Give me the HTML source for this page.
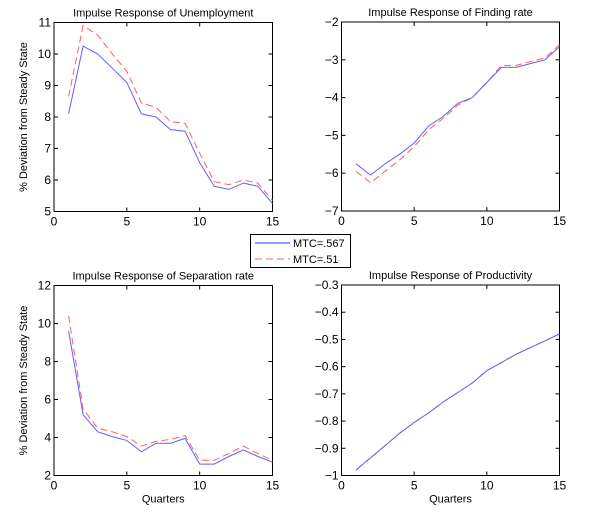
<!DOCTYPE html>
<html><head><meta charset="utf-8"><style>
body{margin:0;background:#fff;}
svg{display:block;font-family:"Liberation Sans",Arial,sans-serif;}
</style></head><body>
<svg id="fig" width="600" height="514" viewBox="0 0 600 514"></svg>
<script>
const quarters=[1,2,3,4,5,6,7,8,9,10,11,12,13,14,15];
const unempBlue=[8.1,10.25,10.0,9.55,9.1,8.1,8.0,7.6,7.55,6.55,5.8,5.7,5.9,5.8,5.25];
const unempRed=[8.65,10.9,10.6,10.0,9.45,8.45,8.3,7.85,7.8,6.85,5.95,5.85,6.0,5.9,5.35];
const findBlue=[-5.75,-6.05,-5.75,-5.5,-5.2,-4.75,-4.5,-4.15,-4.0,-3.6,-3.2,-3.2,-3.1,-3.0,-2.65];
const findRed=[-5.95,-6.25,-5.95,-5.65,-5.3,-4.85,-4.55,-4.2,-4.0,-3.6,-3.15,-3.15,-3.05,-2.95,-2.6];
const sepBlue=[9.6,5.2,4.3,4.05,3.85,3.25,3.7,3.7,3.95,2.6,2.6,3.0,3.35,3.0,2.7];
const sepRed=[10.4,5.5,4.5,4.3,4.05,3.55,3.8,3.9,4.1,2.8,2.8,3.15,3.55,3.15,2.8];
const prodBlue=[-0.98,-0.935,-0.89,-0.845,-0.805,-0.77,-0.73,-0.695,-0.66,-0.615,-0.585,-0.555,-0.53,-0.505,-0.48];
const prodRed=[-0.98,-0.935,-0.89,-0.845,-0.805,-0.77,-0.73,-0.695,-0.66,-0.615,-0.585,-0.555,-0.53,-0.505,-0.48];
const xTicks=[0,5,10,15];
const unempTicks=[5,6,7,8,9,10,11];
const findTicks=[-7,-6,-5,-4,-3,-2];
const sepTicks=[2,4,6,8,10,12];
const prodTicks=[-1,-0.9,-0.8,-0.7,-0.6,-0.5,-0.4,-0.3];
const legendLabels=["MTC=.567","MTC=.51"];

const NS="http://www.w3.org/2000/svg";
const svg=document.getElementById('fig');
function mk(tag,attrs,parent,txt){const e=document.createElementNS(NS,tag);for(const k in attrs)e.setAttribute(k,attrs[k]);if(txt!==undefined)e.textContent=txt;(parent||svg).appendChild(e);return e;}

function panel(name,x0,x1,y0,y1,ymin,ymax,yt,blue,red,title,ylab,xlab){
  const g=mk('g',{});
  
  
  const sx=v=>x0+(v-0)/15*(x1-x0);
  const sy=v=>y1-(v-ymin)/(ymax-ymin)*(y1-y0);
  const box=mk('rect',{x:x0,y:y0,width:x1-x0,height:y1-y0,fill:'#fff',stroke:'#000','stroke-width':1},g);
  
  
  xTicks.forEach(t=>{
    const x=sx(t);
    mk('line',{x1:x,x2:x,y1:y1,y2:y1-4,stroke:'#000'},g);
    mk('line',{x1:x,x2:x,y1:y0,y2:y0+4,stroke:'#000'},g);
    const tl=mk('text',{x:x,y:y1+14,'font-size':12,'text-anchor':'middle'},g,String(t));
    
    
  });
  yt.forEach(t=>{
    const y=sy(t);
    mk('line',{x1:x0,x2:x0+4,y1:y,y2:y,stroke:'#000'},g);
    mk('line',{x1:x1,x2:x1-4,y1:y,y2:y,stroke:'#000'},g);
    const tl=mk('text',{x:x0-3,y:y+4,'font-size':12,'text-anchor':'end'},g,String(t).replace('-','\u2212'));
    
    
  });
  const pts=a=>a.map((v,i)=>sx(quarters[i]).toFixed(1)+','+sy(v).toFixed(1)).join(' ');
  const r=mk('polyline',{points:pts(red),fill:'none',stroke:'#ff6060','stroke-width':1,'stroke-dasharray':'7,4'},g);
  
  
  const b=mk('polyline',{points:pts(blue),fill:'none',stroke:'#6060ff','stroke-width':1},g);
  
  
  const tt=mk('text',{x:(x0+x1)/2,y:y0-6,'font-size':11,'text-anchor':'middle'},g,title);
  
  
  if(ylab){const yl=mk('text',{x:0,y:0,'font-size':11,'text-anchor':'middle',transform:`translate(${x0-27},${(y0+y1)/2}) rotate(-90)`},g,ylab);
    
    }
  if(xlab){const xl=mk('text',{x:(x0+x1)/2,y:y1+27,'font-size':11,'text-anchor':'middle'},g,xlab);
    
    }
}
panel('unemployment',54,272.5,22.5,211.5,5,11,unempTicks,unempBlue,unempRed,'Impulse Response of Unemployment','% Deviation from Steady State',null);
panel('finding-rate',341.5,559.5,22,211,-7,-2,findTicks,findBlue,findRed,'Impulse Response of Finding rate',null,null);
panel('separation-rate',54,272.5,285.5,475.5,2,12,sepTicks,sepBlue,sepRed,'Impulse Response of Separation rate','% Deviation from Steady State','Quarters');
panel('productivity',341.5,559.5,285,475.5,-1,-0.3,prodTicks,prodBlue,prodRed,'Impulse Response of Productivity',null,'Quarters');

const lg=mk('g',{});


mk('rect',{x:250.5,y:234.5,width:100,height:33,fill:'#fff',stroke:'#000'},lg);
const l1=mk('line',{x1:255,x2:290,y1:243,y2:243,stroke:'#3030ff'},lg);


mk('text',{x:293,y:247,'font-size':11},lg,legendLabels[0]);
const l2=mk('line',{x1:255,x2:290,y1:259,y2:259,stroke:'#ff6060','stroke-dasharray':'7,4'},lg);


mk('text',{x:293,y:263,'font-size':11},lg,legendLabels[1]);
</script>
</body></html>
